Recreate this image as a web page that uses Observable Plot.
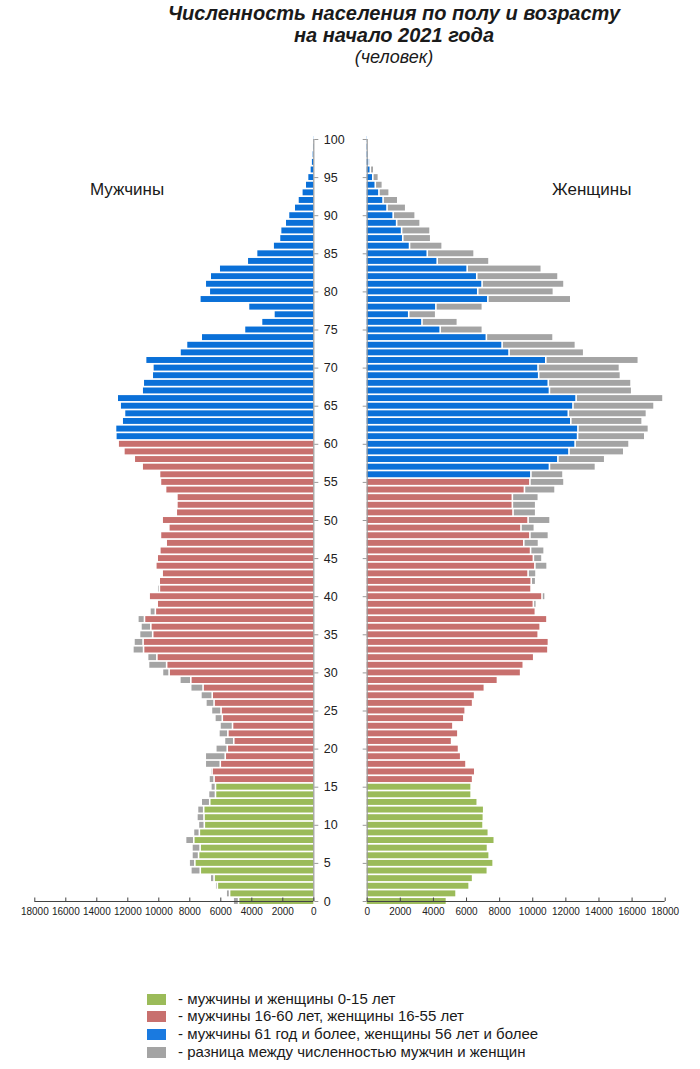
<!DOCTYPE html>
<html>
<head>
<meta charset="utf-8">
<script src="https://cdn.jsdelivr.net/npm/d3@7"></script>
<script src="https://cdn.jsdelivr.net/npm/@observablehq/plot@0.6"></script>
<style>
  body { margin: 0; background: #fff; }
  #wrap { position: relative; width: 700px; height: 1069px; font-family: "Liberation Sans", Arial, sans-serif; color: #1a1a1a; overflow: hidden; }
  .abs { position: absolute; white-space: nowrap; }
  .t1 { font-weight: bold; font-style: italic; font-size: 20px; left: 94px; width: 600px; text-align: center; }
  .t3 { font-style: italic; font-size: 18px; left: 94px; width: 600px; text-align: center; }
  .sex { font-size: 17px; }
  .leg { font-size: 15px; left: 178px; }
  .sw { width: 19px; height: 11px; left: 147px; }
</style>
</head>
<body>
<div id="wrap">
  <div class="abs t1" style="top:2px;">Численность населения по полу и возрасту</div>
  <div class="abs t1" style="top:24px;">на начало 2021 года</div>
  <div class="abs t3" style="top:47px;">(человек)</div>
  <div id="left" class="abs" style="left:0; top:0;"></div>
  <div id="right" class="abs" style="left:350px; top:0;"></div>
  <div class="abs sex" style="left:90px; top:180px;">Мужчины</div>
  <div class="abs sex" style="left:552px; top:180px;">Женщины</div>
  <div id="legend"></div>
</div>
<script>
// ages 0..100
const ages = d3.range(0, 101);
// men, persons by single year of age
const men = [
  5120, 5570, 6280, 6600, 7850, 7960, 7780, 7780, 8190, 7680,
  7360, 7460, 7420, 7180, 6710, 6560, 6680, 6600, 6920, 6920,
  6240, 5680, 6040, 5970, 6300, 6520, 6880, 7200, 7860, 8560,
  9680, 10580, 10640, 11590, 11520, 11160, 11070, 11270, 10490, 10020,
  10540, 10020, 9890, 9700, 10110, 10020, 9850, 9440, 9810, 9270,
  9700, 8790, 8750, 8750, 9480, 9810, 9870, 10990, 11500, 12170,
  12540, 12690, 12710, 12280, 12130, 12410, 12600, 10990, 10920, 10340,
  10300, 10770, 8550, 8130, 7180, 4390, 3290, 2490, 4130, 7270,
  6660, 6920, 6600, 6020, 4210, 3610, 2540, 2130, 2060, 1760,
  1550, 1180, 940, 690, 470, 320, 170, 90, 40, 20,
  10
];
// women, persons by single year of age
const women = [
  4770, 5350, 6140, 6350, 7240, 7590, 7350, 7250, 7660, 7300,
  6980, 7000, 7020, 6630, 6260, 6260, 6350, 6480, 5950, 5630,
  5500, 5080, 5460, 5160, 5820, 5900, 6350, 6470, 7060, 7850,
  9250, 9410, 10040, 10900, 10930, 10310, 10430, 10840, 10140, 10200,
  10730, 9880, 10160, 10180, 10850, 10540, 10670, 10330, 10930, 10080,
  11030, 10160, 10160, 10320, 11330, 11870, 11810, 13770, 14330, 15480,
  15800, 16750, 16970, 16590, 16850, 17310, 17850, 15960, 15920, 15280,
  15220, 16360, 13060, 12560, 11210, 6940, 5430, 4120, 6940, 12280,
  11230, 11870, 11510, 10500, 7340, 6440, 4510, 3820, 3780, 3180,
  2880, 2310, 1830, 1310, 900, 660, 380, 200, 100, 50,
  20
];
const xTicks = [0, 2000, 4000, 6000, 8000, 10000, 12000, 14000, 16000, 18000];
const ageTicks = [0, 5, 10, 15, 20, 25, 30, 35, 40, 45, 50, 55, 60, 65, 70, 75, 80, 85, 90, 95, 100];
const legendLabels = [
  "- мужчины и женщины 0-15 лет",
  "- мужчины 16-60 лет, женщины 16-55 лет",
  "- мужчины 61 год и более, женщины 56 лет и более",
  "- разница между численностью мужчин и женщин"
];
const palette = {child: "#9bbb59", work: "#c8706e", old: "#0a70d8", diff: "#a4a4a4"};

const rows = ages.map((a, i) => ({age: a, m: men[i], f: women[i], lo: Math.min(men[i], women[i])}));
const menColor = a => a <= 15 ? palette.child : a <= 60 ? palette.work : palette.old;
const womenColor = a => a <= 15 ? palette.child : a <= 55 ? palette.work : palette.old;

const H = 930;
const style = {fontFamily: "'Liberation Sans', Arial, sans-serif", fontSize: "10px", color: "#222", background: "transparent"};

function axisMarks() {
  return [
    Plot.ruleX([0], {y1: 0, y2: 100, stroke: "#9a9a9a", strokeWidth: 1.2}),
    Plot.ruleY([0], {x1: 0, x2: 18000, stroke: "#444"}),
    Plot.ruleX(xTicks, {y1: 0, y2: 0, insetTop: -3.5, stroke: "#444"}),
    Plot.axisX({anchor: "bottom", ticks: xTicks, tickFormat: d => String(d), tickSize: 0, tickPadding: 6, label: null})
  ];
}

const left = Plot.plot({
  width: 350, height: H,
  marginLeft: 34.3, marginRight: 36.7, marginTop: 139, marginBottom: H - 901,
  style,
  x: {domain: [0, 18000], range: [313.3, 34.3]},
  y: {domain: [0, 100], range: [901, 139]},
  color: {type: "identity"},
  marks: [
    Plot.rect(rows, {x1: 0, x2: "lo", y1: d => d.age - 0.5, y2: d => d.age + 0.5, fill: d => menColor(d.age), insetTop: 0.85, insetBottom: 0.85}),
    Plot.rect(rows.filter(d => d.m > d.f), {x1: "f", x2: "m", y1: d => d.age - 0.5, y2: d => d.age + 0.5, fill: palette.diff, insetTop: 0.85, insetBottom: 0.85, insetRight: 1.6}),
    ...axisMarks(),
    Plot.axisY({anchor: "right", ticks: ageTicks, tickFormat: d => String(d), tickSize: 4, tickPadding: 6, label: null, fontSize: 12.5, stroke: "#9a9a9a"})
  ]
});
document.getElementById("left").appendChild(left);

const right = Plot.plot({
  width: 350, height: H,
  marginLeft: 16.7, marginRight: 35.3, marginTop: 139, marginBottom: H - 901,
  style,
  x: {domain: [0, 18000], range: [16.7, 314.7]},
  y: {domain: [0, 100], range: [901, 139]},
  color: {type: "identity"},
  marks: [
    Plot.rect(rows, {x1: 0, x2: "lo", y1: d => d.age - 0.5, y2: d => d.age + 0.5, fill: d => womenColor(d.age), insetTop: 0.85, insetBottom: 0.85}),
    Plot.rect(rows.filter(d => d.f > d.m), {x1: "m", x2: "f", y1: d => d.age - 0.5, y2: d => d.age + 0.5, fill: palette.diff, insetTop: 0.85, insetBottom: 0.85, insetLeft: 1.6}),
    ...axisMarks(),
    Plot.axisY({anchor: "left", ticks: ageTicks, tickFormat: () => "", tickSize: 4, label: null, stroke: "#9a9a9a"})
  ]
});
document.getElementById("right").appendChild(right);

// legend
const legColors = [palette.child, palette.work, "#1a7ae0", palette.diff];
const legTops = [999, 1016, 1034, 1052];
const leg = document.getElementById("legend");
legendLabels.forEach((t, i) => {
  const sw = document.createElement("div");
  sw.className = "abs sw";
  sw.style.top = (legTops[i] - 5.5) + "px";
  sw.style.background = legColors[i];
  leg.appendChild(sw);
  const tx = document.createElement("div");
  tx.className = "abs leg";
  tx.style.top = (legTops[i] - 9.5) + "px";
  tx.textContent = t;
  leg.appendChild(tx);
});
</script>
</body>
</html>
